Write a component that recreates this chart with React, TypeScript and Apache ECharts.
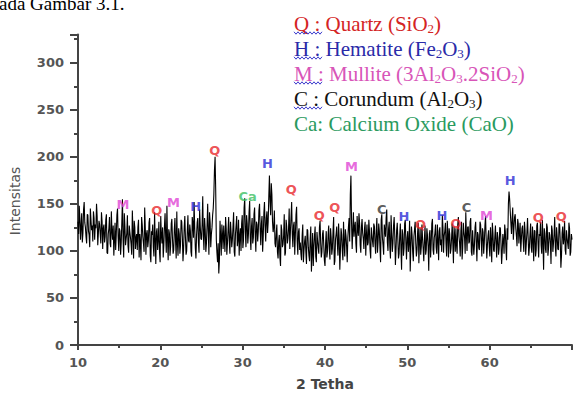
import React, { useEffect, useRef } from "react";
import * as echarts from "echarts";

// XRD scan grid (2-theta)
const scanStart = 10;
const scanStep = 0.15;

// Intensity at 10.00, 10.15, ... 70.00
const intensity = [
  131,148,112,140,119,152,125,108,138,117,145,122,110,135,128,150,106,132,118,141,
  102,128,115,139,97,124,108,142,112,95,130,118,145,100,121,109,155,93,126,113,
  138,98,120,107,143,92,125,114,101,133,118,90,128,108,146,96,122,111,135,88,
  117,104,141,86,124,112,99,137,108,93,126,115,148,90,119,105,134,97,123,110,
  142,95,118,106,131,89,125,114,100,138,109,121,94,129,152,103,117,135,98,126,
  112,158,101,123,108,150,96,130,118,138,160,200,112,88,76,132,95,118,127,99,
  124,108,136,97,119,112,141,94,127,105,133,116,100,138,111,156,104,129,118,153,
  101,135,114,146,99,128,121,150,106,137,115,152,110,142,131,180,138,160,120,143,
  104,128,92,117,84,122,107,139,98,126,113,145,121,152,104,131,117,147,96,124,
  109,90,128,101,116,86,122,95,113,78,119,104,126,88,111,97,132,93,118,106,
  84,121,99,127,91,114,103,136,89,118,107,129,80,124,100,131,94,116,88,126,
  110,180,102,141,125,108,137,116,130,98,134,113,124,95,128,109,121,92,117,104,
  126,97,135,110,121,88,139,106,128,115,144,100,131,92,119,108,136,85,122,112,
  97,129,80,118,103,133,91,121,110,78,126,99,115,131,94,120,87,124,105,113,
  89,127,101,116,79,122,108,134,96,119,104,128,90,125,112,138,98,121,107,132,
  93,118,102,129,87,115,124,97,136,108,121,91,130,114,141,100,126,110,135,95,
  122,106,131,89,117,101,128,94,120,109,137,92,116,104,125,88,119,99,127,93,
  114,102,124,86,118,97,121,90,112,163,142,118,146,125,139,116,134,108,130,112,
  127,99,122,108,135,95,118,104,126,89,121,101,130,93,116,106,133,80,119,98,
  125,103,117,86,122,108,136,94,115,101,128,82,119,107,132,96,114,102,124,99,
  112,
];

// Intensity at the half steps 10.075, 10.225, ... 69.925
const intensityMid = [
  118,135,126,109,144,130,115,139,121,104,133,127,142,112,124,137,119,128,108,131,
  124,109,133,98,118,136,104,121,127,110,101,138,115,124,96,131,112,140,106,119,
  105,127,114,96,121,132,102,118,125,93,109,136,115,99,124,118,104,130,95,121,
  128,94,113,120,101,131,88,117,125,106,140,98,112,123,95,129,113,101,135,92,
  108,124,97,133,115,102,137,96,121,111,128,99,136,114,125,92,130,109,144,113,
  128,116,135,99,127,120,141,104,125,145,186,165,98,108,90,115,128,102,112,136,
  96,122,110,131,104,126,99,118,137,112,95,124,129,103,146,120,138,108,141,114,
  126,108,139,117,131,110,143,123,129,99,140,126,135,119,158,152,172,131,126,108,
  118,99,110,93,128,104,116,95,133,108,124,102,136,118,127,96,138,110,120,101,
  97,116,88,110,99,123,104,89,126,98,84,116,94,120,103,125,108,99,122,90,
  108,93,117,102,124,96,121,85,112,126,95,113,101,117,90,109,123,105,114,135,
  160,130,122,115,131,98,122,140,106,125,119,102,131,116,106,133,101,125,110,129,
  108,121,98,129,103,133,114,96,122,135,109,124,104,138,99,127,116,101,130,92,
  116,102,123,95,129,108,114,99,132,104,117,89,123,108,101,130,110,96,128,102,
  113,96,124,105,118,93,129,101,114,128,97,112,121,106,99,125,116,130,94,118,
  124,97,114,108,126,99,106,128,115,94,131,103,120,97,118,125,108,131,99,122,
  96,125,108,120,103,131,111,124,97,127,113,106,122,94,110,130,101,115,107,120,
  96,125,108,99,111,128,103,124,150,155,130,134,112,136,124,105,129,121,99,124,
  110,131,96,120,114,104,129,98,112,122,94,127,108,118,131,97,110,124,102,129,
  95,120,108,127,99,118,104,125,102,129,110,95,126,113,101,122,108,130,95,118,
];

// Phase labels on the peaks
const peakLabels = ["M","Q","M","H","Q","Ca","H","Q","Q","Q","M","C","H","Q","H","Q","C","M","H","Q","Q"];
const peakX = [15.45,19.56,21.6,24.3,26.6,30.6,33.0,35.9,39.3,41.2,43.2,46.9,49.6,51.6,54.2,55.9,57.2,59.6,62.5,65.9,68.7];
const peakY = [149.5,143,151.6,147,207,158,192.6,165,138,146,189.5,144,137,128,138,129.5,146,138,175,136,137];

const phaseColors: Record<string, string> = {
  Q: "#e8262a",
  H: "#2b2bd6",
  M: "#e044d4",
  C: "#333333",
  Ca: "#3cc062",
};

// Legend lines: key, name, formula parts (text / subscript alternating), color
const legendKeys = ["Q : ", "H : ", "M : ", "C : ", "Ca: "];
const legendNames = ["Quartz (", "Hematite (", "Mullite (", "Corundum (", "Calcium Oxide ("];
const legendFormulas = [
  ["SiO", "2", ")"],
  ["Fe", "2", "O", "3", ")"],
  ["3Al", "2", "O", "3", ".2SiO", "2", ")"],
  ["Al", "2", "O", "3", ")"],
  ["CaO)"],
];
const legendColors = ["#d42424", "#2a2aa8", "#d855b8", "#111111", "#2a9a60"];
const legendWavy = [true, true, true, true, false];

const xTicks = [10, 20, 30, 40, 50, 60];

const SERIF_NAME = "Liberation Serif";

function wavy(x0: number, x1: number, y: number) {
  const pts: number[][] = [];
  let up = true;
  for (let x = x0; x <= x1; x += 2) {
    pts.push([x, y + (up ? -1.2 : 1.2)]);
    up = !up;
  }
  return pts;
}

export default function App() {
  const ref = useRef<HTMLDivElement>(null);

  useEffect(() => {
    if (!ref.current) return;
    const chart = echarts.init(ref.current, undefined, { renderer: "svg" });

    const lineData: number[][] = [];
    intensity.forEach((v, i) => {
      lineData.push([scanStart + i * scanStep, v]);
      if (i < intensityMid.length) {
        lineData.push([scanStart + (i + 0.5) * scanStep, intensityMid[i]]);
      }
    });

    const labelData = peakX.map((x, i) => ({
      value: [x, peakY[i]],
      label: { color: phaseColors[peakLabels[i]], formatter: peakLabels[i] },
    }));

    const legendX = 294;
    const legendY0 = 22.5;
    const legendGap = 25;
    const graphics: any[] = [];

    legendKeys.forEach((k, i) => {
      const c = legendColors[i];
      const parts = legendFormulas[i];
      let text = `{t|${k}${legendNames[i]}}`;
      parts.forEach((p, j) => {
        text += j % 2 === 1 ? `{s|${p}}` : `{t|${p}}`;
      });
      const y = legendY0 + i * legendGap;
      graphics.push({
        type: "text",
        x: legendX,
        y,
        z: 10,
        style: {
          text,
          font: `21px "${SERIF_NAME}"`,
          fontFamily: SERIF_NAME,
          fontSize: 21,
          fill: c,
          verticalAlign: "middle",
          rich: {
            t: {
              font: `21px "${SERIF_NAME}"`,
              fontFamily: SERIF_NAME,
              fontSize: 21,
              fill: c,
              verticalAlign: "bottom",
              lineHeight: 24,
            },
            s: {
              font: `13px "${SERIF_NAME}"`,
              fontFamily: SERIF_NAME,
              fontSize: 13,
              fill: c,
              verticalAlign: "bottom",
              lineHeight: 20,
            },
          },
        },
      });
      if (legendWavy[i]) {
        graphics.push({
          type: "polyline",
          z: 10,
          shape: { points: wavy(legendX, legendX + 28, y + 10.5) },
          style: { stroke: "#3a3acc", lineWidth: 1, fill: null },
        });
      }
    });

    graphics.push({
      type: "text",
      x: -1,
      y: 3,
      style: {
        text: "ada Gambar 3.1.",
        fontFamily: SERIF_NAME,
        fontSize: 19,
        fill: "#000",
        verticalAlign: "middle",
      },
    });

    graphics.push({
      type: "text",
      x: 15,
      y: 201,
      rotation: Math.PI / 2,
      style: {
        text: "Intensitas",
        fontFamily: "DejaVu Sans",
        fontSize: 14,
        fill: "#555",
        align: "center",
        verticalAlign: "middle",
      },
    });

    chart.setOption({
      animation: false,
      grid: { left: 78, right: 1.4, top: 34.5, bottom: 48, containLabel: false },
      xAxis: {
        type: "value",
        min: 10,
        max: 70,
        interval: 10,
        name: "2 Tetha",
        nameLocation: "middle",
        nameGap: 32,
        nameTextStyle: { fontFamily: "DejaVu Sans", fontWeight: "bold", fontSize: 14, color: "#444" },
        axisLine: { show: true, lineStyle: { color: "#444", width: 2 } },
        axisTick: { show: true, length: 5, lineStyle: { color: "#444", width: 2 } },
        minorTick: { show: true, splitNumber: 2, length: 3, lineStyle: { color: "#444", width: 2 } },
        splitLine: { show: false },
        axisLabel: {
          margin: 11,
          color: "#555",
          fontFamily: "DejaVu Sans",
          fontWeight: "bold",
          fontSize: 13,
          formatter: (v: number) => (xTicks.includes(v) ? String(v) : ""),
        },
      },
      yAxis: {
        type: "value",
        min: 0,
        max: 330,
        interval: 50,
        axisLine: { show: true, lineStyle: { color: "#444", width: 2 } },
        axisTick: { show: true, length: 8, lineStyle: { color: "#444", width: 2 } },
        minorTick: { show: true, splitNumber: 2, length: 4, lineStyle: { color: "#444", width: 2 } },
        splitLine: { show: false },
        axisLabel: {
          margin: 14,
          color: "#555",
          fontFamily: "DejaVu Sans",
          fontWeight: "bold",
          fontSize: 13,
          showMaxLabel: false,
          formatter: (v: number) => (v % 50 === 0 ? String(v) : ""),
        },
      },
      graphic: graphics,
      series: [
        {
          type: "line",
          data: lineData,
          showSymbol: false,
          symbol: "none",
          lineStyle: { color: "#000", width: 1.1 },
          silent: true,
          z: 2,
        },
        {
          type: "scatter",
          data: labelData,
          symbolSize: 0,
          silent: true,
          z: 5,
          label: {
            show: true,
            position: "inside",
            fontFamily: "DejaVu Sans",
            fontWeight: "bold",
            fontSize: 13,
          },
        },
      ],
    });

    return () => chart.dispose();
  }, []);

  return (
    <div
      ref={ref}
      style={{ position: "fixed", left: 0, top: 0, width: 575, height: 396, background: "#fff" }}
    />
  );
}
